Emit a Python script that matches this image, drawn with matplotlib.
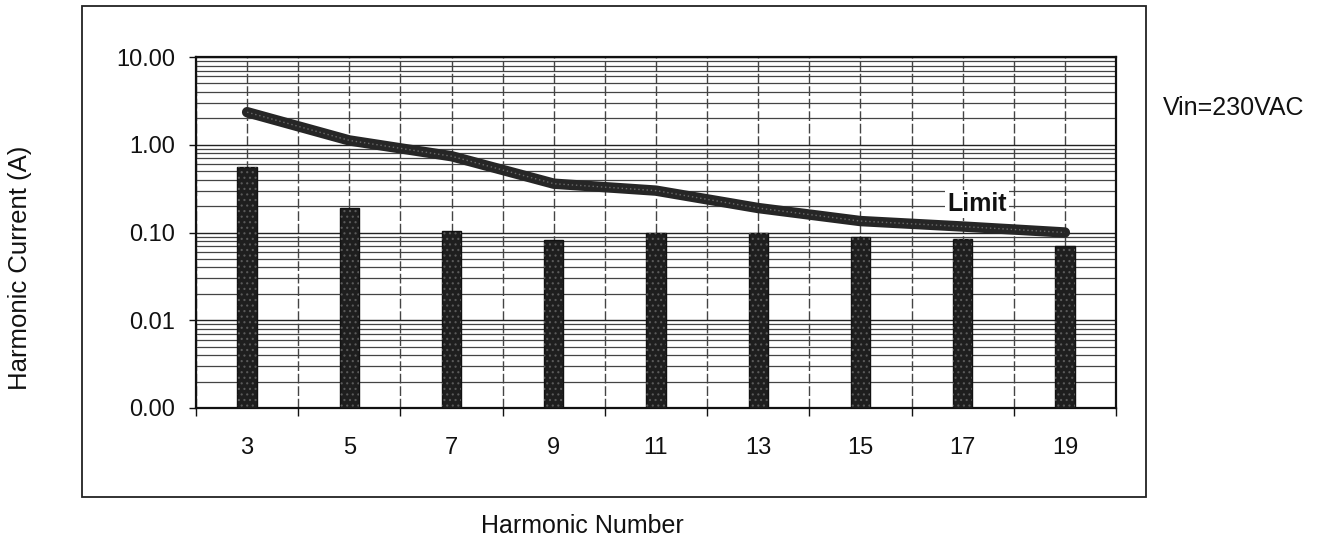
import matplotlib
matplotlib.use('Agg')
import matplotlib.pyplot as plt
from matplotlib.patches import Rectangle
from matplotlib.ticker import LogLocator, NullFormatter, FixedLocator
import numpy as np

# ---- data ----
harmonics = [3, 5, 7, 9, 11, 13, 15, 17, 19]
measured = [0.56, 0.19, 0.104, 0.082, 0.100, 0.099, 0.090, 0.085, 0.071]
limit = [2.35, 1.12, 0.74, 0.36, 0.30, 0.19, 0.135, 0.117, 0.100]
ytick_values = [0.001, 0.01, 0.1, 1, 10]
ytick_labels = ['0.00', '0.01', '0.10', '1.00', '10.00']
y_floor = 0.001

plt.rcParams['font.family'] = ['Liberation Sans', 'DejaVu Sans']
plt.rcParams['hatch.linewidth'] = 0.8

W, H = 1325, 546
fig = plt.figure(figsize=(W / 100, H / 100), dpi=100)
left, right, top, bottom = 196, 1116, 57, 408
ax = fig.add_axes([left / W, 1 - bottom / H, (right - left) / W, (bottom - top) / H])

x = np.arange(len(harmonics))
ax.set_yscale('log')
ax.set_ylim(y_floor, 10)
ax.set_xlim(-0.5, len(harmonics) - 0.5)

# y axis ticks
ax.yaxis.set_major_locator(FixedLocator(ytick_values))
ax.set_yticklabels(ytick_labels)
ax.yaxis.set_minor_locator(LogLocator(base=10, subs=np.arange(2, 10)))
ax.yaxis.set_minor_formatter(NullFormatter())
ax.tick_params(axis='y', which='major', length=5, width=1, pad=10, labelsize=17, colors='#111')
ax.tick_params(axis='y', which='minor', length=0)

# x axis ticks
ax.set_xticks(x)
ax.set_xticklabels([str(h) for h in harmonics])
ax.set_xticks(np.arange(-0.5, len(harmonics), 1.0), minor=True)
ax.tick_params(axis='x', which='major', length=0, pad=21, labelsize=17, colors='#111')
ax.tick_params(axis='x', which='minor', length=6, width=1, direction='out', color='#111')

# grids
ax.yaxis.grid(True, which='major', color='#222', lw=1.0, zorder=0)
ax.yaxis.grid(True, which='minor', color='#444', lw=0.9, zorder=0)
ax.xaxis.grid(True, which='both', color='#444', lw=1.0, linestyle=(0, (7, 2)), zorder=0)
ax.set_axisbelow(True)

for s in ax.spines.values():
    s.set_linewidth(1.6)
    s.set_color('#111')

# bars
heights = np.array(measured) - y_floor
ax.bar(x, heights, width=0.19, bottom=y_floor, color='#1e1e1e', edgecolor='#111', lw=1, zorder=3)
ax.bar(x, heights, width=0.19, bottom=y_floor, facecolor='none', edgecolor='#5a5a5a',
       hatch='...', lw=0, zorder=3.5)

# limit line
ax.plot(x, limit, color='#262626', lw=7.5, solid_capstyle='round', zorder=4)
ax.plot(x, limit, color='#6a6a6a', lw=1.0, ls=(0, (1, 2)), zorder=4.5)

ax.text(7.14, 0.21, 'Limit', fontsize=18, fontweight='bold', ha='center', va='center',
        color='#111', bbox=dict(facecolor='white', edgecolor='none', pad=1.5), zorder=5)

# outer frame
fig.patches.append(Rectangle((82 / W, 1 - 497 / H), (1146 - 82) / W, (497 - 6) / H,
                             transform=fig.transFigure, fill=False, edgecolor='#222', lw=1.3))

fig.text(20 / W, 1 - 268 / H, 'Harmonic Current (A)', rotation=90, ha='center', va='center',
         fontsize=18.5, color='#111')
fig.text(582 / W, 1 - 526 / H, 'Harmonic Number', ha='center', va='center',
         fontsize=18, color='#111')
fig.text(1163 / W, 1 - 108 / H, 'Vin=230VAC', ha='left', va='center',
         fontsize=18, color='#111')

fig.savefig('out.png', dpi=100)
